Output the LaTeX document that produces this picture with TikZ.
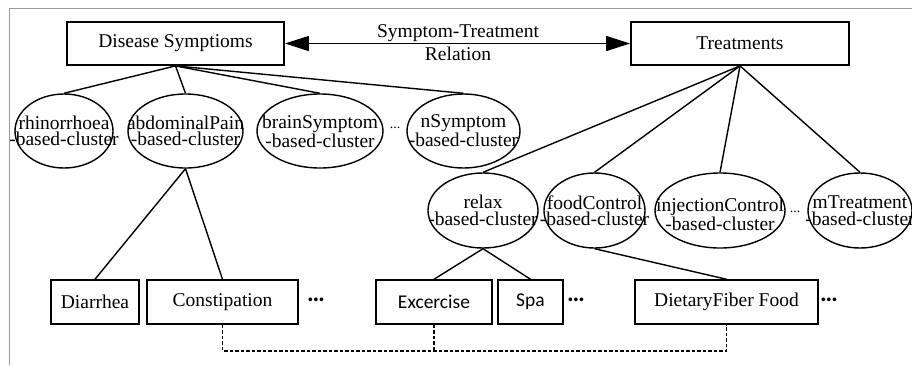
\documentclass[tikz,border=0pt]{standalone}
\usepackage{fontspec}
\setmainfont{Liberation Serif}
\newfontfamily\carlfont{Carlito}
\usetikzlibrary{arrows.meta,shapes.geometric}
\begin{document}
\begin{tikzpicture}[x=1pt,y=-1pt,
  topbox/.style={draw, line width=1.8pt, inner sep=0pt, minimum height=43pt, font=\fontsize{19.5}{19.5}\selectfont},
  leaf/.style={draw, line width=1.5pt, inner sep=0pt, minimum height=44pt, font=\fontsize{19.5}{19.5}\selectfont},
  sleaf/.style={leaf, font=\carlfont\fontsize{19.5}{19.5}\selectfont},
  clus/.style={draw, ellipse, line width=1.4pt, inner sep=0pt, minimum height=74pt},
  ctext/.style={align=center, inner sep=0pt, font=\fontsize{19.5}{16.5}\selectfont},
  link/.style={line width=1.4pt},
  sdots/.style={inner sep=0pt, font=\fontsize{14}{14}\selectfont},
  bdots/.style={inner sep=0pt, font=\carlfont\bfseries\fontsize{25}{25}\selectfont},
  rel/.style={anchor=base, inner sep=0pt, font=\fontsize{19.5}{19.5}\selectfont},
  dashlink/.style={line width=1.5pt, dash pattern=on 3.5pt off 2pt},
  frameline/.style={draw=black!40, line width=1pt}
]
\useasboundingbox (0,0) rectangle (912,365);
% frame
\draw[frameline] (912,8) -- (9,8) -- (9,365);

% top boxes
\node[topbox, minimum width=217pt] (ds) at (175.5,43.5) {Disease Symptioms};
\node[topbox, minimum width=218pt] (tr) at (740,43.5) {Treatments};
\draw[line width=1.4pt, {Triangle[length=24pt,width=15pt]}-{Triangle[length=24pt,width=15pt]}] (ds.east) -- (tr.west);
\node[rel] (rel1) at (458,37) {Symptom-Treatment};
\node[rel] (rel2) at (458,60) {Relation};

% symptom clusters
\node[clus, minimum width=98pt] (rh) at (64,131) {};
\node[ctext] (rht) at (rh) {rhinorrhoea\\-based-cluster};
\node[clus, minimum width=115pt] (ab) at (185.5,131) {};
\node[ctext] (abt) at (ab) {abdominalPain\\-based-cluster};
\node[clus, minimum width=126pt] (br) at (320,131) {};
\node[ctext] (brt) at (br) {brainSymptom\\-based-cluster};
\node[sdots] (d1) at (395,128) {...};
\node[clus, minimum width=113pt] (ns) at (463.5,131) {};
\node[ctext] (nst) at (ns) {nSymptom\\-based-cluster};

% treatment clusters
\node[clus, minimum width=110pt, minimum height=75pt] (rx) at (483,210.5) {};
\node[ctext] (rxt) at (rx) {relax\\-based-cluster};
\node[clus, minimum width=101pt, minimum height=75pt] (fc) at (594.5,210.5) {};
\node[ctext] (fct) at (fc) {foodControl\\-based-cluster};
\node[clus, minimum width=130pt, minimum height=75pt] (ic) at (720,210.5) {};
\node[ctext] (ict) at ([yshift=-4pt]ic.center) {injectionControl\\-based-cluster};
\node[sdots] (d2) at (795,212) {...};
\node[clus, minimum width=104pt, minimum height=75pt] (mt) at (860,210.5) {};
\node[ctext] (mtt) at (mt) {mTreatment\\-based-cluster};

% leaves
\node[leaf, minimum width=88pt] (dia) at (95,302) {Diarrhea};
\node[leaf, minimum width=151pt] (con) at (222.5,302) {Constipation};
\node[bdots] (d3) at (316,303) {\raisebox{6pt}{…}};
\node[sleaf, minimum width=116pt] (exc) at (434,302) {Excercise};
\node[sleaf, minimum width=65pt] (spa) at (530.5,302) {Spa};
\node[bdots] (d4) at (576,303) {\raisebox{6pt}{…}};
\node[leaf, minimum width=183pt] (dff) at (726.5,302) {DietaryFiber Food};
\node[bdots] (d5) at (829,303) {\raisebox{6pt}{…}};

% links
\draw[link] (ds.south) -- (rh.north);
\draw[link] (ds.south) -- (ab.north);
\draw[link] (ds.south) -- (br.north);
\draw[link] (ds.south) -- (ns.north);
\draw[link] (tr.south) -- (rx.north);
\draw[link] (tr.south) -- (fc.north);
\draw[link] (tr.south) -- (ic.north);
\draw[link] (tr.south) -- (mt.north);
\draw[link] (ab.south) -- (dia.north);
\draw[link] (ab.south) -- (con.north);
\draw[link] (rx.south) -- (exc.north);
\draw[link] (rx.south) -- (spa.north);
\draw[link] (fc.south) -- (dff.north);

% dashed relation
\draw[dashlink] (con.south) -- ++(0,26) -| (dff.south);
\draw[dashlink] (exc.south) -- ++(0,26);
\end{tikzpicture}
\end{document}
